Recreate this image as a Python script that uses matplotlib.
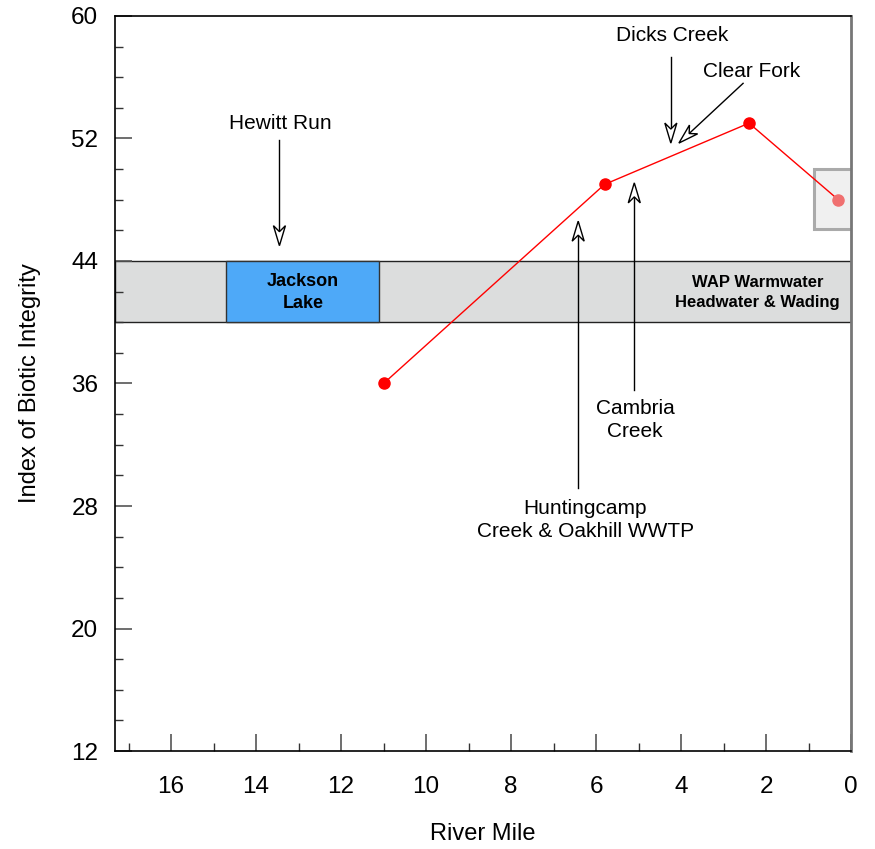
import numpy as np
import matplotlib.pyplot as plt
from matplotlib.patches import Rectangle, Polygon
from matplotlib.ticker import MultipleLocator

plt.rcParams['font.family'] = ['Liberation Sans', 'DejaVu Sans']

# IBI sampling results along the river
river_mile = [11.0, 5.8, 2.4, 0.3]
ibi = [36, 49, 53, 48]

# WAP warmwater headwater & wading range
band_low, band_high = 40, 44
# Jackson Lake extent (river miles)
lake_start, lake_end = 14.7, 11.1

# tributary labels: text, text position, arrow tail, arrow tip
tributaries = [
    ("Hewitt Run", (13.43, 53.0), (13.45, 51.9), (13.45, 45.0)),
    ("Dicks Creek", (4.21, 58.7), (4.24, 57.3), (4.24, 51.7)),
    ("Clear Fork", (2.35, 56.4), (2.54, 55.6), (4.05, 51.7)),
    ("Cambria\nCreek", (5.08, 33.6), (5.1, 35.6), (5.1, 49.1)),
    ("Huntingcamp\nCreek & Oakhill WWTP", (6.25, 27.1), (6.42, 29.2), (6.42, 46.6)),
]

fig = plt.figure(figsize=(8.75, 8.49), dpi=100)
ax = fig.add_axes([0.1314, 0.1154, 0.8412, 0.8658])

ax.set_xlim(17.32, 0)
ax.set_ylim(12, 60)


def open_arrow(ax, tail, tip, head_len=20, head_w=12):
    # hollow notched arrowhead, built in pixel space
    t = ax.transData.transform(tail)
    p = ax.transData.transform(tip)
    d = (p - t) / np.hypot(*(p - t))
    n = np.array([-d[1], d[0]])
    back = p - head_len * d
    notch = p - 0.7 * head_len * d
    line_end = ax.transData.inverted().transform(notch)
    ax.plot([tail[0], line_end[0]], [tail[1], line_end[1]], color='black', lw=1.0, zorder=7)
    head = [p, back + head_w / 2 * n, notch, back - head_w / 2 * n]
    ax.add_patch(Polygon(head, closed=True, transform=None, facecolor='white',
                         edgecolor='black', lw=1.0, zorder=8))


# criteria band and lake
ax.add_patch(Rectangle((17.32, band_low), -17.32, band_high - band_low,
                       facecolor='#dcdddd', edgecolor='#222222', lw=1.0, zorder=1))
ax.add_patch(Rectangle((lake_start, band_low), lake_end - lake_start, band_high - band_low,
                       facecolor='#4ea9f8', edgecolor='#333333', lw=1.0, zorder=2))
ax.text((lake_start + lake_end) / 2, 41.95, "Jackson\nLake", ha='center', va='center',
        fontsize=13, fontweight='bold', linespacing=1.4, zorder=3)
ax.text(2.2, 41.95, "WAP Warmwater\nHeadwater & Wading", ha='center', va='center',
        fontsize=12, fontweight='bold', linespacing=1.45, zorder=3)

# box highlighting the last site
ax.add_patch(Rectangle((0.87, 46.1), -0.89, 3.9, facecolor='#f0f0f0',
                       edgecolor='#aaaaaa', lw=2.2, zorder=2))

ax.plot(river_mile[:3], ibi[:3], color='red', lw=1.0, marker='o', ms=8, zorder=5)
ax.plot(river_mile[2:], ibi[2:], color='red', lw=1.0, zorder=4)
ax.plot(river_mile[3], ibi[3], 'o', color='#f07070', ms=8, zorder=6)

for label, txt_pos, tail, tip in tributaries:
    ax.text(txt_pos[0], txt_pos[1], label, ha='center', va='center',
            fontsize=15, linespacing=1.25)
    open_arrow(ax, tail, tip)

ax.set_yticks(range(12, 61, 8))
ax.xaxis.set_major_locator(MultipleLocator(2))
ax.xaxis.set_minor_locator(MultipleLocator(1))
ax.yaxis.set_minor_locator(MultipleLocator(2))
ax.tick_params(which='both', direction='in', top=False, right=False, labelsize=17.5)
ax.tick_params(which='major', length=12, width=1.2, color='#555555', pad=12)
ax.tick_params(which='minor', length=6, width=1.0, color='#333333')
ax.tick_params(axis='x', pad=18)

for s in ['left', 'bottom', 'top']:
    ax.spines[s].set_linewidth(1.2)
ax.spines['right'].set_color('#777777')
ax.spines['right'].set_linewidth(2)

ax.set_xlabel("River Mile", fontsize=17, labelpad=18)
ax.set_ylabel("Index of Biotic Integrity", fontsize=17)
ax.yaxis.set_label_coords(-0.1, 0.5)

fig.savefig("out.png", dpi=100)
